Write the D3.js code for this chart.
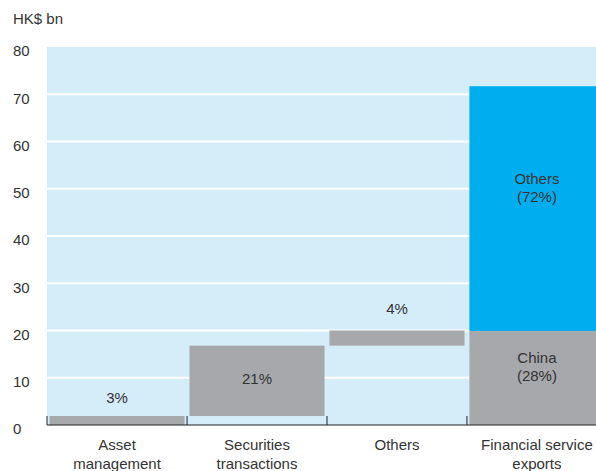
<!DOCTYPE html>
<html>
<head>
<meta charset="utf-8">
<script src="https://cdn.jsdelivr.net/npm/d3@7"></script>
<style>
  body { margin: 0; background: #fff; }
  text { font-family: "Liberation Sans", Arial, sans-serif; fill: #333; }
</style>
</head>
<body>
<div id="canvas"></div>
<script>
// data (HK$ bn)
const categories = ["Asset management", "Securities transactions", "Others", "Financial service exports"];
const categoryLines = [["Asset", "management"], ["Securities", "transactions"], ["Others"], ["Financial service", "exports"]];
const waterfallValues = [1.9, 14.9, 3.2];          // the three building blocks
const waterfallLabels = ["3%", "21%", "4%"];
const exportSplit = [{ name: "China", value: 19.9, pct: "(28%)" }, { name: "Others", value: 51.8, pct: "(72%)" }];
const yTicks = [0, 10, 20, 30, 40, 50, 60, 70, 80];

const W = 596, H = 471;
const M = { left: 47, top: 47, bottom: 425 };

const svg = d3.select("#canvas").append("svg")
  .attr("width", W).attr("height", H);

const x = d3.scaleBand()
  .domain(categories)
  .range([M.left, M.left + 140 * 4])
  .paddingInner(0.035)
  .paddingOuter(0.018);

const y = d3.scaleLinear().domain([0, 80]).range([M.bottom, M.top]);

// plot background
svg.append("rect")
  .attr("x", M.left).attr("y", M.top)
  .attr("width", W - M.left).attr("height", M.bottom - M.top)
  .attr("fill", "#d5ecf9");

// white grid lines
svg.append("g").selectAll("line")
  .data(yTicks.filter(d => d > 0 && d < 80))
  .enter().append("line")
  .attr("x1", M.left).attr("x2", W)
  .attr("y1", d => y(d)).attr("y2", d => y(d))
  .attr("stroke", "#fff").attr("stroke-width", 2);

// waterfall blocks
let run = 0;
const blocks = waterfallValues.map((v, i) => {
  const b = { cat: categories[i], y0: run, y1: run + v, label: waterfallLabels[i] };
  run += v;
  return b;
});

svg.append("g").selectAll("rect")
  .data(blocks)
  .enter().append("rect")
  .attr("x", d => x(d.cat))
  .attr("width", x.bandwidth())
  .attr("y", d => y(d.y1))
  .attr("height", d => y(d.y0) - y(d.y1))
  .attr("fill", "#a7a8ab");

// stacked export bar
let acc = 0;
const stack = exportSplit.map(s => {
  const r = { ...s, y0: acc, y1: acc + s.value };
  acc += s.value;
  return r;
});
const lastCat = categories[3];
svg.append("g").selectAll("rect")
  .data(stack)
  .enter().append("rect")
  .attr("x", x(lastCat))
  .attr("width", x.bandwidth())
  .attr("y", d => y(d.y1))
  .attr("height", d => y(d.y0) - y(d.y1))
  .attr("fill", (d, i) => i === 0 ? "#a7a8ab" : "#00aeef");

// labels on the waterfall: small blocks get the label above, big one inside
svg.append("g").selectAll("text")
  .data(blocks)
  .enter().append("text")
  .attr("x", d => x(d.cat) + x.bandwidth() / 2)
  .attr("y", d => (d.y1 - d.y0) > 8 ? y((d.y0 + d.y1) / 2) + 3 : y(d.y1) - (d.y1 > 10 ? 17 : 13))
  .attr("text-anchor", "middle")
  .attr("font-size", 15)
  .text(d => d.label);

// labels in the stacked bar sit a bit above the middle of each piece
const cx = x(lastCat) + x.bandwidth() / 2;
const stackLbl = svg.append("g").selectAll("text")
  .data(stack)
  .enter().append("text")
  .attr("x", cx)
  .attr("y", d => y(d.y0 + d.value * (d.name === "China" ? 0.66 : 0.6)))
  .attr("text-anchor", "middle")
  .attr("font-size", 15);
stackLbl.append("tspan")
  .attr("x", cx)
  .text(d => d.name);
stackLbl.append("tspan")
  .attr("x", cx)
  .attr("dy", 18)
  .text(d => d.pct);

// y axis labels
svg.append("g").selectAll("text")
  .data(yTicks)
  .enter().append("text")
  .attr("x", 13)
  .attr("y", d => y(d) + 4)
  .attr("dy", "0.35em")
  .attr("font-size", 15)
  .text(d => d);

svg.append("text")
  .attr("x", 13).attr("y", 24)
  .attr("font-size", 15)
  .text("HK$ bn");

// zero line with separator ticks
svg.append("line")
  .attr("x1", M.left).attr("x2", W)
  .attr("y1", y(0)).attr("y2", y(0))
  .attr("stroke", "#222").attr("stroke-width", 1.2);

const seps = [M.left].concat(categories.slice(1).map(c => x(c) - x.step() * x.paddingInner() / 2));
svg.append("g").selectAll("line")
  .data(seps)
  .enter().append("line")
  .attr("x1", d => d).attr("x2", d => d)
  .attr("y1", y(0) - 9).attr("y2", y(0))
  .attr("stroke", "#222").attr("stroke-width", 1);

// category labels
const cl = svg.append("g").selectAll("text")
  .data(categories)
  .enter().append("text")
  .attr("text-anchor", "middle")
  .attr("font-size", 15)
  .attr("y", 450);
cl.selectAll("tspan")
  .data((d, i) => categoryLines[i].map(t => ({ t, c: d })))
  .enter().append("tspan")
  .attr("x", d => x(d.c) + x.bandwidth() / 2)
  .attr("dy", (d, i) => i === 0 ? 0 : 18.5)
  .text(d => d.t);
</script>
</body>
</html>
